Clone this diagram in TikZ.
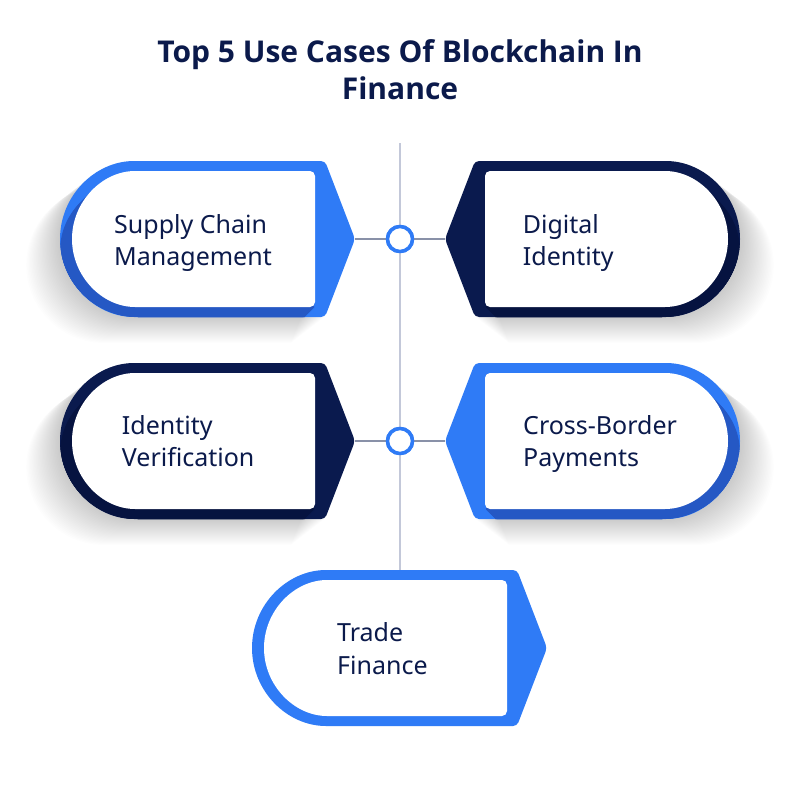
\documentclass[tikz,border=0pt]{standalone}
\usepackage{fontspec}
\setmainfont{Noto Sans}
\newfontfamily\titlefont{Open Sans}
\definecolor{cblue}{HTML}{2F7BF6}
\definecolor{cblued}{HTML}{2558C4}
\definecolor{cnavy}{HTML}{0A1A4E}
\definecolor{cnavyd}{HTML}{061340}
\definecolor{ctext}{HTML}{0B1A4B}
\definecolor{cvline}{HTML}{C3C8D9}
\definecolor{chline}{HTML}{8991A8}
\newcommand\outerL{(-120,-78) -- (-30,-78) -- (0,0) -- (-30,78) -- (-217,78) arc[start angle=90,end angle=270,radius=78] -- cycle}
\newcommand\innerL{(-120,-68) -- (-40,-68) -- (-40,68) -- (-215,68) arc[start angle=90,end angle=270,radius=68] -- cycle}
\tikzset{
  pics/card/.style n args={2}{code={
    \foreach \i in {1,...,26}{\fill[black,opacity=0.009,shift={(-1.3*\i,\i)}] \outerL;}
    \fill[#1,rounded corners=4] \outerL;
    \begin{scope}
      \clip \outerL;
      \foreach \i in {1,...,12}{\fill[#2,shift={(-\i,\i)}] \innerL;}
    \end{scope}
    \fill[white,rounded corners=5] \innerL;
  }},
  pics/plaincard/.style={code={
    \fill[#1,rounded corners=4] \outerL;
    \fill[white,rounded corners=5] \innerL;
  }},
  cardtext/.style={anchor=base west,inner sep=0pt,align=left,text=ctext,font=\fontsize{25}{32.4}\selectfont},
  hub/.style={circle,draw=cblue,line width=3.5pt,fill=white,minimum size=25pt,inner sep=0pt},
  vline/.style={draw=cvline,line width=2pt},
  hline/.style={draw=chline,line width=1.5pt},
}
\begin{document}
\begin{tikzpicture}[x=1pt,y=-1pt]
\useasboundingbox[fill=white] (0,0) rectangle (800,803);
\node[anchor=base,align=center,inner sep=0pt,text=ctext,font=\titlefont\fontsize{30}{36.6}\selectfont\bfseries] (title) at (400,99.3) {Top 5 Use Cases Of Blockchain In\\Finance};
\coordinate (vtop) at (400,143);
\coordinate (v5) at (400,571);
\coordinate (t1) at (355,239);
\coordinate (t2) at (445,239);
\coordinate (t3) at (355,441);
\coordinate (t4) at (445,441);
\node[hub] (c1) at (400,239) {};
\node[hub] (c2) at (400,441) {};
\path[vline] (vtop) -- (c1) -- (c2) -- (v5);
\path[hline] (t1) -- (c1) -- (t2);
\path[hline] (t3) -- (c2) -- (t4);
\node[hub] at (c1) {};
\node[hub] at (c2) {};
\pic at (t1) {card={cblue}{cblued}};
\pic[xscale=-1] at (t2) {card={cnavy}{cnavyd}};
\pic at (t3) {card={cnavy}{cnavyd}};
\pic[xscale=-1] at (t4) {card={cblue}{cblued}};
\pic at (547,648) {plaincard=cblue};
\node[cardtext] (l1) at (114,265.7) {Supply Chain\\Management};
\node[cardtext] (l2) at (522.7,265.7) {Digital\\Identity};
\node[cardtext] (l3) at (121.7,466.7) {Identity\\Verification};
\node[cardtext] (l4) at (523,466.7) {Cross-Border\\Payments};
\node[cardtext] (l5) at (337,674.3) {Trade\\Finance};
\end{tikzpicture}
\end{document}
